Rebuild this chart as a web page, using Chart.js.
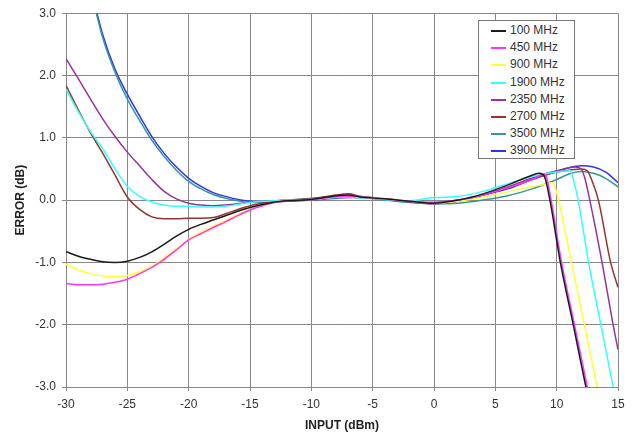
<!DOCTYPE html>
<html>
<head>
<meta charset="utf-8">
<script src="https://cdn.jsdelivr.net/npm/chart.js@4"></script>
<style>
    html, body { margin: 0; padding: 0; background: #fff; }
    #wrap { position: relative; width: 637px; height: 438px; }
    #legend {
        position: absolute;
        left: 478px;
        top: 20px;
        width: 95px;
        height: 137px;
        border: 1px solid #777;
        background: #fff;
        font-family: "Liberation Sans", Arial, sans-serif;
        font-size: 12px;
        color: #333;
        box-sizing: content-box;
    }
    .legend-row { position: absolute; left: 0; height: 14px; line-height: 14px; white-space: nowrap; }
    .legend-line { position: absolute; left: 12px; top: 7px; width: 15px; height: 2px; }
    .legend-text { position: absolute; left: 31px; top: 0; }
</style>
</head>
<body>
<div id="wrap">
    <canvas id="errorChart" width="637" height="438"></canvas>
    <div id="legend"></div>
</div>
<script>
// shared input points (dBm) for the flat part of every curve
const inputBase = [-30, -29, -28, -27, -26, -25, -24, -23, -22, -21, -20, -19, -18, -17, -16, -15,
    -14, -13, -12, -10, -8, -7, -6, -4, -2, 0, 2, 4, 6, 8];

const err100 = [-0.83, -0.9, -0.95, -0.99, -1.0, -0.98, -0.92, -0.83, -0.71, -0.58, -0.47, -0.39, -0.32, -0.25, -0.18, -0.12,
    -0.07, -0.03, -0.01, 0.01, 0.07, 0.08, 0.05, 0.02, -0.02, -0.05, 0.0, 0.1, 0.24, 0.4];
const err450 = [-1.34, -1.36, -1.36, -1.35, -1.32, -1.27, -1.18, -1.08, -0.95, -0.8, -0.64, -0.54, -0.44, -0.35, -0.25, -0.16,
    -0.09, -0.04, -0.01, 0.01, 0.05, 0.06, 0.05, 0.02, -0.02, -0.04, 0.0, 0.08, 0.2, 0.33];
const err900 = [-1.03, -1.12, -1.18, -1.22, -1.23, -1.21, -1.15, -1.06, -0.93, -0.78, -0.63, -0.52, -0.42, -0.33, -0.23, -0.15,
    -0.08, -0.03, -0.01, 0.01, 0.05, 0.06, 0.05, 0.02, -0.02, -0.05, -0.02, 0.05, 0.13, 0.22];
const err1900 = [1.78, 1.42, 1.1, 0.82, 0.5, 0.22, 0.06, -0.03, -0.08, -0.1, -0.1, -0.11, -0.11, -0.1, -0.07, -0.04,
    -0.02, -0.01, 0.0, 0.01, 0.04, 0.05, 0.04, 0.01, -0.01, 0.04, 0.06, 0.14, 0.26, 0.38];
const err2350 = [2.27, 1.95, 1.62, 1.3, 1.02, 0.77, 0.55, 0.33, 0.14, 0.02, -0.05, -0.08, -0.09, -0.08, -0.06, -0.03,
    -0.02, -0.01, 0.0, 0.01, 0.05, 0.06, 0.05, 0.01, -0.03, -0.06, -0.02, 0.08, 0.2, 0.35];
const err2700 = [1.84, 1.45, 1.08, 0.75, 0.4, 0.05, -0.15, -0.27, -0.3, -0.3, -0.29, -0.29, -0.28, -0.22, -0.15, -0.09,
    -0.05, -0.02, 0.0, 0.02, 0.08, 0.1, 0.06, 0.02, -0.02, -0.05, -0.01, 0.08, 0.21, 0.35];
const err3500 = [null, null, 3.38, 2.6, 2.05, 1.62, 1.28, 0.96, 0.7, 0.48, 0.3, 0.18, 0.09, 0.03, -0.01, -0.04,
    -0.04, -0.03, -0.01, 0.03, 0.05, 0.05, 0.04, 0.0, -0.04, -0.06, -0.05, 0.0, 0.07, 0.18];
const err3900 = [null, null, 3.42, 2.65, 2.1, 1.7, 1.35, 1.02, 0.75, 0.53, 0.35, 0.22, 0.12, 0.06, 0.01, -0.02,
    -0.03, -0.03, -0.02, 0.0, 0.03, 0.04, 0.04, 0.01, -0.02, -0.04, 0.0, 0.08, 0.18, 0.33];

// high input end, where each curve rolls off
const tail100X = [8.6, 9.0, 9.45, 10.3, 11.35, 12.38, 12.9];
const tail100Y = [0.43, 0.38, 0.0, -1.0, -2.0, -3.0, -3.5];
const tail450X = [9.0, 9.15, 9.55, 10.4, 11.45, 12.5, 13.0];
const tail450Y = [0.42, 0.38, 0.0, -1.0, -2.0, -3.0, -3.5];
const tail900X = [9.0, 9.6, 9.85, 10.15, 11.2, 12.25, 13.3, 13.8];
const tail900Y = [0.25, 0.28, 0.22, 0.0, -1.0, -2.0, -3.0, -3.5];
const tail1900X = [9, 10, 11.1, 11.4, 11.75, 12.6, 13.6, 14.6, 15];
const tail1900Y = [0.42, 0.45, 0.47, 0.3, 0.0, -1.0, -2.0, -3.0, -3.4];
const tail2350X = [9, 10, 11, 11.5, 12.0, 12.3, 12.7, 13.7, 14.6, 15];
const tail2350Y = [0.42, 0.47, 0.52, 0.53, 0.5, 0.35, 0.0, -1.0, -2.0, -2.4];
const tail2700X = [9, 10, 11, 12, 12.5, 12.9, 13.4, 14.4, 15];
const tail2700Y = [0.4, 0.45, 0.48, 0.5, 0.47, 0.3, 0.0, -1.0, -1.4];
const tail3500X = [9, 10, 11, 12, 13, 14, 15];
const tail3500Y = [0.25, 0.33, 0.42, 0.46, 0.43, 0.35, 0.21];
const tail3900X = [9, 10, 11, 12, 13, 14, 15];
const tail3900Y = [0.4, 0.46, 0.52, 0.55, 0.53, 0.45, 0.28];

const seriesNames = ["100 MHz", "450 MHz", "900 MHz", "1900 MHz", "2350 MHz", "2700 MHz", "3500 MHz", "3900 MHz"];
const seriesColors = ["#1a1a1a", "#ff33ff", "#ffff33", "#33ffff", "#993399", "#993333", "#339999", "#3333ee"];

const baseValues = [err100, err450, err900, err1900, err2350, err2700, err3500, err3900];
const tailX = [tail100X, tail450X, tail900X, tail1900X, tail2350X, tail2700X, tail3500X, tail3900X];
const tailY = [tail100Y, tail450Y, tail900Y, tail1900Y, tail2350Y, tail2700Y, tail3500Y, tail3900Y];

function buildPoints(i) {
    const points = [];
    inputBase.forEach((x, k) => {
        if (baseValues[i][k] !== null) points.push({ x: x, y: baseValues[i][k] });
    });
    tailX[i].forEach((x, k) => points.push({ x: x, y: tailY[i][k] }));
    return points;
}

const datasets = seriesNames.map((name, i) => ({
    label: name,
    data: buildPoints(i),
    borderColor: seriesColors[i],
    backgroundColor: seriesColors[i],
    borderWidth: 1.5,
    pointRadius: 0,
    fill: false,
    showLine: true,
    cubicInterpolationMode: "monotone"
}));

const fontFamily = "'Liberation Sans', Arial, sans-serif";

const ctx = document.getElementById("errorChart").getContext("2d");

new Chart(ctx, {
    type: "scatter",
    data: { datasets: datasets },
    options: {
        responsive: false,
        animation: false,
        layout: { padding: { top: 10, right: 19, left: 0, bottom: 0 } },
        plugins: {
            legend: { display: false },
            tooltip: { enabled: false }
        },
        scales: {
            x: {
                type: "linear",
                min: -30,
                max: 15,
                ticks: {
                    stepSize: 5,
                    color: "#333",
                    padding: 6,
                    font: { family: fontFamily, size: 12 }
                },
                grid: { color: "#888", lineWidth: 1, tickLength: 4 },
                border: { color: "#888" },
                title: {
                    display: true,
                    text: "INPUT (dBm)",
                    color: "#222",
                    font: { family: fontFamily, size: 12, weight: "bold" },
                    padding: { top: 0, bottom: 5 }
                },
                afterFit: scale => { scale.height = 51; }
            },
            y: {
                min: -3,
                max: 3,
                ticks: {
                    stepSize: 1,
                    color: "#333",
                    padding: 6,
                    font: { family: fontFamily, size: 12 },
                    callback: value => value.toFixed(1)
                },
                grid: { color: "#888", lineWidth: 1, tickLength: 4 },
                border: { color: "#888" },
                title: {
                    display: true,
                    text: "ERROR (dB)",
                    color: "#222",
                    font: { family: fontFamily, size: 12, weight: "bold" },
                    padding: { top: 13, bottom: 0 }
                },
                afterFit: scale => { scale.width = 66; }
            }
        }
    }
});

// legend box inside the plot, top right
const legendBox = document.getElementById("legend");
seriesNames.forEach((name, i) => {
    const row = document.createElement("div");
    row.className = "legend-row";
    row.style.top = (2 + i * 17.2) + "px";
    row.innerHTML = `<span class="legend-line" style="background:${seriesColors[i]}"></span>` +
        `<span class="legend-text">${name}</span>`;
    legendBox.appendChild(row);
});
</script>
</body>
</html>
